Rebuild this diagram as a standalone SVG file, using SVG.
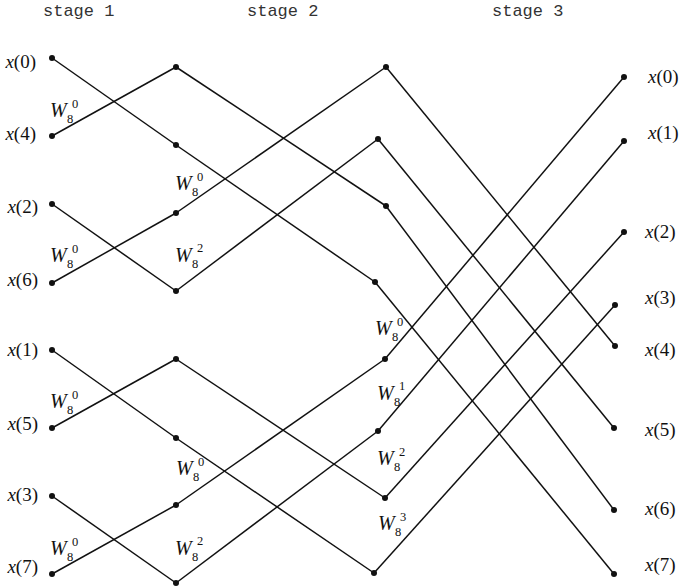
<svg xmlns="http://www.w3.org/2000/svg" width="685" height="587" viewBox="0 0 685 587">
<style>
.bg{fill:#fff}
.ln{stroke:#111;stroke-width:1.5;fill:none}
.dot{fill:#111}
.lab{font-family:"Liberation Serif",serif;font-size:19px;fill:#111}
.it{font-style:italic}
.hd{font-family:"Liberation Mono",monospace;font-size:17px;fill:#333}
.w{font-family:"Liberation Serif",serif;font-size:20px;font-style:italic;fill:#111}
.s{font-family:"Liberation Serif",serif;font-size:12.5px;fill:#111}
</style>
<rect class="bg" x="0" y="0" width="685" height="587"/>
<g id="headers">
<text class="hd" x="43" y="16">stage 1</text>
<text class="hd" x="247" y="16">stage 2</text>
<text class="hd" x="492" y="16">stage 3</text>
</g>
<g id="connectors">
<line class="ln" x1="52" y1="58" x2="176" y2="145"/>
<line class="ln" x1="52" y1="136" x2="176" y2="67"/>
<line class="ln" x1="52" y1="204" x2="176" y2="291"/>
<line class="ln" x1="52" y1="283" x2="176" y2="213"/>
<line class="ln" x1="52" y1="350" x2="176" y2="438"/>
<line class="ln" x1="52" y1="428" x2="176" y2="359"/>
<line class="ln" x1="52" y1="496" x2="176" y2="583"/>
<line class="ln" x1="52" y1="574" x2="176" y2="505"/>
<line class="ln" x1="176" y1="67" x2="386" y2="206"/>
<line class="ln" x1="176" y1="145" x2="375" y2="282"/>
<line class="ln" x1="176" y1="213" x2="386" y2="67"/>
<line class="ln" x1="176" y1="291" x2="378" y2="139"/>
<line class="ln" x1="176" y1="359" x2="385" y2="498"/>
<line class="ln" x1="176" y1="438" x2="374" y2="573"/>
<line class="ln" x1="176" y1="505" x2="385" y2="359"/>
<line class="ln" x1="176" y1="583" x2="378" y2="431"/>
<line class="ln" x1="386" y1="67" x2="615" y2="346"/>
<line class="ln" x1="378" y1="139" x2="614" y2="428"/>
<line class="ln" x1="386" y1="206" x2="614" y2="510"/>
<line class="ln" x1="375" y1="282" x2="614" y2="574"/>
<line class="ln" x1="385" y1="359" x2="624" y2="77"/>
<line class="ln" x1="378" y1="431" x2="624" y2="141"/>
<line class="ln" x1="385" y1="498" x2="624" y2="232"/>
<line class="ln" x1="374" y1="573" x2="615" y2="305"/>
</g>
<g id="col1">
<circle class="dot" cx="52" cy="58" r="3"/><circle class="dot" cx="52" cy="136" r="3"/>
<circle class="dot" cx="52" cy="204" r="3"/><circle class="dot" cx="52" cy="283" r="3"/>
<circle class="dot" cx="52" cy="350" r="3"/><circle class="dot" cx="52" cy="428" r="3"/>
<circle class="dot" cx="52" cy="496" r="3"/><circle class="dot" cx="52" cy="574" r="3"/>
</g>
<g id="col2">
<circle class="dot" cx="176" cy="67" r="3"/><circle class="dot" cx="176" cy="145" r="3"/>
<circle class="dot" cx="176" cy="213" r="3"/><circle class="dot" cx="176" cy="291" r="3"/>
<circle class="dot" cx="176" cy="359" r="3"/><circle class="dot" cx="176" cy="438" r="3"/>
<circle class="dot" cx="176" cy="505" r="3"/><circle class="dot" cx="176" cy="583" r="3"/>
</g>
<g id="col3">
<circle class="dot" cx="386" cy="67" r="3"/><circle class="dot" cx="378" cy="139" r="3"/>
<circle class="dot" cx="386" cy="206" r="3"/><circle class="dot" cx="375" cy="282" r="3"/>
<circle class="dot" cx="385" cy="359" r="3"/><circle class="dot" cx="378" cy="431" r="3"/>
<circle class="dot" cx="385" cy="498" r="3"/><circle class="dot" cx="374" cy="573" r="3"/>
</g>
<g id="col4">
<circle class="dot" cx="624" cy="77" r="3"/><circle class="dot" cx="624" cy="141" r="3"/>
<circle class="dot" cx="624" cy="232" r="3"/><circle class="dot" cx="615" cy="305" r="3"/>
<circle class="dot" cx="615" cy="346" r="3"/><circle class="dot" cx="614" cy="428" r="3"/>
<circle class="dot" cx="614" cy="510" r="3"/><circle class="dot" cx="614" cy="574" r="3"/>
</g>
<g id="inputs" class="lab" text-anchor="end">
<text x="36" y="68"><tspan class="it">x</tspan>(0)</text>
<text x="36" y="140"><tspan class="it">x</tspan>(4)</text>
<text x="38" y="213"><tspan class="it">x</tspan>(2)</text>
<text x="38" y="286"><tspan class="it">x</tspan>(6)</text>
<text x="38" y="356"><tspan class="it">x</tspan>(1)</text>
<text x="38" y="430"><tspan class="it">x</tspan>(5)</text>
<text x="38" y="501"><tspan class="it">x</tspan>(3)</text>
<text x="38" y="573"><tspan class="it">x</tspan>(7)</text>
</g>
<g id="outputs" class="lab">
<text x="648" y="83"><tspan class="it">x</tspan>(0)</text>
<text x="648" y="139"><tspan class="it">x</tspan>(1)</text>
<text x="645" y="238"><tspan class="it">x</tspan>(2)</text>
<text x="645" y="304"><tspan class="it">x</tspan>(3)</text>
<text x="645" y="356"><tspan class="it">x</tspan>(4)</text>
<text x="645" y="436"><tspan class="it">x</tspan>(5)</text>
<text x="645" y="515"><tspan class="it">x</tspan>(6)</text>
<text x="645" y="571"><tspan class="it">x</tspan>(7)</text>
</g>
<g id="twiddles">
<text class="w" x="50" y="117">W</text><text class="s" x="67" y="123">8</text><text class="s" x="72" y="108">0</text>
<text class="w" x="50" y="262">W</text><text class="s" x="67" y="268">8</text><text class="s" x="72" y="253">0</text>
<text class="w" x="50" y="408">W</text><text class="s" x="67" y="414">8</text><text class="s" x="72" y="399">0</text>
<text class="w" x="50" y="555">W</text><text class="s" x="67" y="561">8</text><text class="s" x="72" y="546">0</text>
<text class="w" x="175" y="190">W</text><text class="s" x="192" y="196">8</text><text class="s" x="197" y="181">0</text>
<text class="w" x="175" y="262">W</text><text class="s" x="192" y="268">8</text><text class="s" x="197" y="252">2</text>
<text class="w" x="176" y="475">W</text><text class="s" x="193" y="481">8</text><text class="s" x="198" y="466">0</text>
<text class="w" x="175" y="555">W</text><text class="s" x="192" y="561">8</text><text class="s" x="197" y="545">2</text>
<text class="w" x="375" y="335">W</text><text class="s" x="392" y="341">8</text><text class="s" x="397" y="326">0</text>
<text class="w" x="377" y="400">W</text><text class="s" x="394" y="406">8</text><text class="s" x="399" y="390">1</text>
<text class="w" x="377" y="465">W</text><text class="s" x="394" y="471">8</text><text class="s" x="399" y="456">2</text>
<text class="w" x="378" y="530">W</text><text class="s" x="395" y="536">8</text><text class="s" x="400" y="521">3</text>
</g>
</svg>
